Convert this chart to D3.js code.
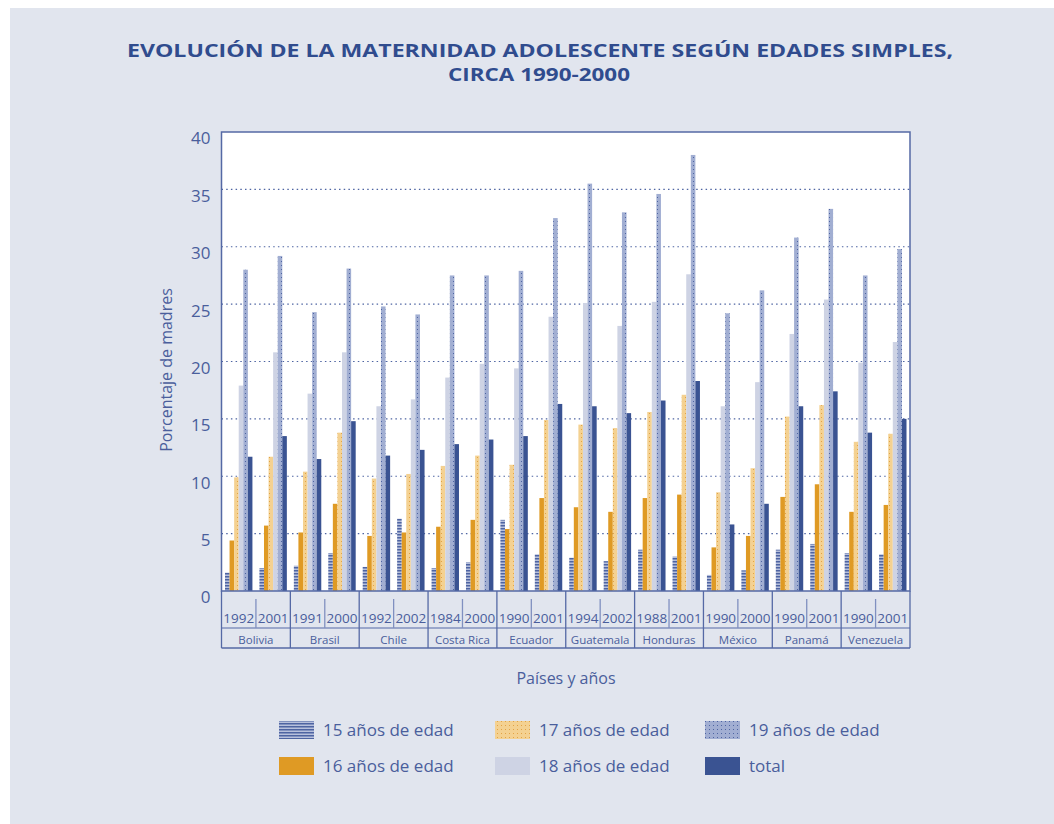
<!DOCTYPE html>
<html><head><meta charset="utf-8">
<script src="https://cdn.jsdelivr.net/npm/d3@7"></script>
<style>
html,body{margin:0;padding:0;background:#fff;}
svg{display:block;}
text{font-family:"Open Sans","Noto Sans",sans-serif;}
</style></head>
<body>
<svg id="c" width="1054" height="824"></svg>
<script>
const countries = ["Bolivia","Brasil","Chile","Costa Rica","Ecuador","Guatemala","Honduras","México","Panamá","Venezuela"];
const years = ["1992","2001","1991","2000","1992","2002","1984","2000","1990","2001","1994","2002","1988","2001","1990","2000","1990","2001","1990","2001"];
const seriesNames = ["15 años de edad","16 años de edad","17 años de edad","18 años de edad","19 años de edad","total"];
const s15 = [1.6,2.0, 2.2,3.3, 2.1,6.3, 2.0,2.5, 6.2,3.2, 2.9,2.6, 3.6,3.0, 1.4,1.8, 3.6,4.1, 3.3,3.2];
const s16 = [4.4,5.7, 5.1,7.6, 4.8,5.1, 5.6,6.2, 5.4,8.1, 7.3,6.9, 8.1,8.4, 3.8,4.8, 8.2,9.3, 6.9,7.5];
const s17 = [9.9,11.7, 10.4,13.8, 9.8,10.2, 10.9,11.8, 11.0,14.9, 14.5,14.2, 15.6,17.1, 8.6,10.7, 15.2,16.2, 13.0,13.7];
const s18 = [17.9,20.8, 17.2,20.8, 16.1,16.7, 18.6,19.8, 19.4,23.9, 25.1,23.1, 25.2,27.6, 16.1,18.2, 22.4,25.4, 19.9,21.7];
const s19 = [28.0,29.2, 24.3,28.1, 24.8,24.1, 27.5,27.5, 27.9,32.5, 35.5,33.0, 34.6,38.0, 24.2,26.2, 30.8,33.3, 27.5,29.8];
const total = [11.7,13.5, 11.5,14.8, 11.8,12.3, 12.8,13.2, 13.5,16.3, 16.1,15.5, 16.6,18.3, 5.8,7.6, 16.1,17.4, 13.8,15.0];
const yTicks = [0,5,10,15,20,25,30,35,40];

const series = [s15,s16,s17,s18,s19,total];
const fills = ["url(#p15)","#df9a24","url(#p17)","#ced3e4","url(#p19)","#3a5392"];
const textCol = "#4a5e9c";
const lineCol = "#5569a5";

const svg = d3.select("#c");
const defs = svg.append("defs");
// patterns
const p15 = defs.append("pattern").attr("id","p15").attr("patternUnits","userSpaceOnUse").attr("width",4).attr("height",3);
p15.append("rect").attr("width",4).attr("height",3).attr("fill","#b7c0dc");
p15.append("rect").attr("width",4).attr("height",1.5).attr("fill","#4e64a2");
const p17 = defs.append("pattern").attr("id","p17").attr("patternUnits","userSpaceOnUse").attr("width",4).attr("height",4);
p17.append("rect").attr("width",4).attr("height",4).attr("fill","#f4d191");
p17.append("rect").attr("x",1).attr("y",1).attr("width",1).attr("height",1).attr("fill","#e2a345");
const p19 = defs.append("pattern").attr("id","p19").attr("patternUnits","userSpaceOnUse").attr("width",4).attr("height",4);
p19.append("rect").attr("width",4).attr("height",4).attr("fill","#a1aed2");
p19.append("rect").attr("x",1).attr("y",1).attr("width",1).attr("height",1).attr("fill","#4e64a2");

// background panel
svg.append("rect").attr("x",10).attr("y",8).attr("width",1044).attr("height",816).attr("fill","#e1e5ee");

// title
const title = svg.append("g").attr("fill","#304c8e").attr("font-weight","bold").attr("font-size",17.8).attr("text-anchor","middle");
title.append("text").attr("x",540).attr("y",57).text("EVOLUCIÓN DE LA MATERNIDAD ADOLESCENTE SEGÚN EDADES SIMPLES,")
  .attr("textLength",826).attr("lengthAdjust","spacingAndGlyphs");
title.append("text").attr("x",539).attr("y",81).text("CIRCA 1990-2000")
  .attr("textLength",182).attr("lengthAdjust","spacingAndGlyphs");

const L = 221.5, R = 910, T = 132, B = 591;
const y = d3.scaleLinear().domain([0,40]).range([B,T]);
const xg = d3.scaleBand().domain(d3.range(20)).range([L,R]).padding(0);
const xs = d3.scaleBand().domain(d3.range(6)).range([3.5, xg.bandwidth()-3.5]).padding(0);
const xc = d3.scaleBand().domain(countries).range([L,R]).padding(0);

// plot area
svg.append("rect").attr("x",L).attr("y",T).attr("width",R-L).attr("height",B-T).attr("fill","#fff");

// gridlines
svg.append("g").selectAll("line").data(yTicks.filter(d=>d>0 && d<40)).join("line")
  .attr("x1",L).attr("x2",R).attr("y1",d=>y(d)).attr("y2",d=>y(d))
  .attr("stroke","#4e64a2").attr("stroke-width",1.2).attr("stroke-dasharray","1.5,3.2");

// bars
const bars = svg.append("g");
series.forEach((s,si)=>{
  bars.append("g").selectAll("rect").data(s).join("rect")
    .attr("x",(d,i)=>xg(i)+xs(si))
    .attr("width",xs.bandwidth())
    .attr("y",d=>y(d)).attr("height",d=>B-y(d))
    .attr("fill",fills[si]);
});

// frame
svg.append("rect").attr("x",L).attr("y",T).attr("width",R-L).attr("height",B-T)
  .attr("fill","none").attr("stroke",lineCol).attr("stroke-width",1.5);

// y axis labels
const yAxis = d3.axisLeft(y).tickValues(yTicks).tickSize(0).tickPadding(11);
const ya = svg.append("g").attr("transform",`translate(${L},0)`).call(yAxis);
ya.select(".domain").remove();
ya.selectAll("text").attr("fill",textCol).attr("font-size",17).attr("dy","0.7em").attr("font-family","'Open Sans','Noto Sans',sans-serif");

// x category axis box
const axB1 = 628, axB2 = 648;
const xa = svg.append("g");
xa.append("line").attr("x1",L).attr("x2",R).attr("y1",axB1).attr("y2",axB1).attr("stroke",lineCol).attr("stroke-width",1.2);
xa.append("line").attr("x1",L).attr("x2",R).attr("y1",axB2).attr("y2",axB2).attr("stroke",lineCol).attr("stroke-width",1.5);
// country dividers
xa.selectAll("line.cd").data(countries.map(c=>xc(c)).concat([R])).join("line").attr("class","cd")
  .attr("x1",d=>d).attr("x2",d=>d).attr("y1",B).attr("y2",axB2).attr("stroke",lineCol).attr("stroke-width",1.3);
// year dividers (middle of each country)
xa.selectAll("line.yd").data(countries).join("line").attr("class","yd")
  .attr("x1",c=>xc(c)+xc.bandwidth()/2).attr("x2",c=>xc(c)+xc.bandwidth()/2)
  .attr("y1",599).attr("y2",axB1).attr("stroke","#8090c0").attr("stroke-width",1.3);
xa.selectAll("text.yr").data(years).join("text").attr("class","yr")
  .attr("x",(d,i)=>xg(i)+xg.bandwidth()/2).attr("y",623).attr("text-anchor","middle")
  .attr("font-size",13.5).attr("fill",textCol).text(d=>d);
xa.selectAll("text.ct").data(countries).join("text").attr("class","ct")
  .attr("x",c=>xc(c)+xc.bandwidth()/2).attr("y",643.5).attr("text-anchor","middle")
  .attr("font-size",11.5).attr("fill",textCol).text(d=>d);

// axis titles
svg.append("text").attr("x",566).attr("y",684).attr("text-anchor","middle").attr("font-size",16).attr("fill",textCol).text("Países y años");
svg.append("text").attr("transform","translate(172,370) rotate(-90)").attr("text-anchor","middle").attr("font-size",16).attr("fill",textCol).text("Porcentaje de madres");

// legend
const legPos = [[279,721],[279,757],[495,721],[495,757],[705,721],[705,757]];
const leg = svg.append("g");
seriesNames.forEach((n,i)=>{
  const [lx,ly] = legPos[i];
  leg.append("rect").attr("x",lx).attr("y",ly).attr("width",35).attr("height",18).attr("fill",fills[i]);
  leg.append("text").attr("x",lx+44).attr("y",ly+15).attr("font-size",17).attr("fill",textCol).text(n);
});
</script>
</body></html>
